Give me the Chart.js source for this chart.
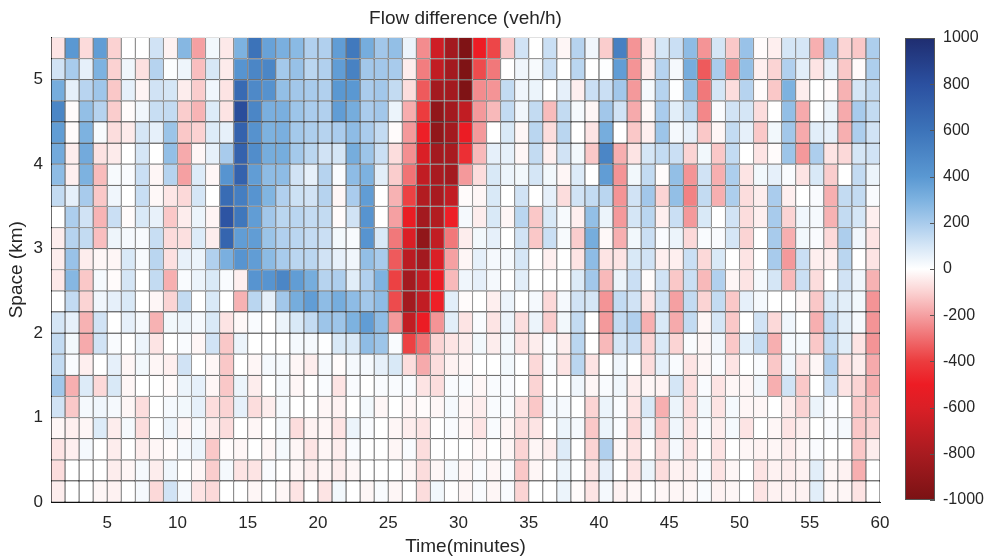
<!DOCTYPE html>
<html>
<head>
<meta charset="utf-8">
<script src="https://cdn.jsdelivr.net/npm/chart.js@4.4.1/dist/chart.umd.min.js"></script>
<style>
html,body{margin:0;padding:0;background:#ffffff;}
#wrap{position:relative;width:987px;height:558px;overflow:hidden;}
#main{position:absolute;left:0;top:0;}
#cbar{position:absolute;left:880px;top:0;}
</style>
</head>
<body>
<div id="wrap">
<canvas id="main" width="944" height="558"></canvas>
<canvas id="cbar" width="107" height="558"></canvas>
</div>
<script>
// ---- data ----
const timeEdges = [1,2,3,4,5,6,7,8,9,10,11,12,13,14,15,16,17,18,19,20,21,22,23,24,25,26,27,28,29,30,
  31,32,33,34,35,36,37,38,39,40,41,42,43,44,45,46,47,48,49,50,51,52,53,54,55,56,57,58,59,60];
const spaceEdges = [0,0.25,0.5,0.75,1,1.25,1.5,1.75,2,2.25,2.5,2.75,3,3.25,3.5,3.75,4,4.25,4.5,4.75,5,5.25,5.5];
const xTickValues = [5,10,15,20,25,30,35,40,45,50,55,60];
const yTickValues = [0,1,2,3,4,5];
const colorTickValues = [-1000,-800,-600,-400,-200,0,200,400,600,800,1000];

// flow difference (veh/h); first row = 5.25-5.5 km (top), last row = 0-0.25 km (bottom)
const flowRows = [
 [-60,400,-80,380,-100,0,0,110,-30,280,-200,30,-50,300,600,360,310,270,180, 180,380,570,320,215,250,45,-240,-650,-820,-980,-500,-380,-120,110,0,125,-20,170,35, -110,530,-225,-60,100,125,260,-225,100,-120,235,-10,-35,100,100,-170,200,-95,-120,190],
 [110,200,60,300,-100,35,-70,170,10,40,-140,95,-45,420,500,500,210,240,160, 180,380,520,215,215,200,-40,-270,-700,-820,-980,-370,-280,0,35,20,125,0,160,0, 5,380,-225,-40,170,25,320,-340,195,-225,250,-35,-95,180,70,-60,60,-120,-10,190],
 [320,60,165,220,-120,60,-25,110,100,-40,-110,35,-60,650,480,430,250,215,200, 180,400,400,195,215,140,-75,-340,-820,-820,-980,-240,-225,140,35,45,0,60,-35,125, 125,215,-215,25,170,5,250,-280,100,-75,170,-10,-120,300,-40,0,-10,-165,100,140],
 [500,-10,250,170,-110,-10,35,130,140,-110,-160,80,-60,820,500,310,310,225,195, 180,380,320,195,215,45,-175,-400,-900,-820,-700,-215,-150,140,35,140,-145,140,25,-20, 215,110,-180,-15,195,70,160,-250,15,110,100,-75,0,250,-180,0,45,-180,200,140],
 [380,-8,300,20,-75,-45,100,60,230,-120,-100,80,60,700,430,300,310,210,190, 170,195,260,195,140,-10,-215,-490,-900,-820,-510,-215,0,90,-20,160,-75,160,0,-60, 320,0,-120,-35,225,25,60,-120,-20,140,60,-120,30,215,-180,70,60,-170,190,110],
 [330,-40,330,-65,-45,0,100,0,250,-180,-20,60,200,700,460,320,320,210,160, 110,100,320,225,125,-75,-235,-600,-820,-800,-440,-150,60,60,-20,140,-35,110,30,-120, 500,-170,-60,100,140,125,-95,30,-120,140,0,-60,-10,225,-215,190,-60,-85,100,110],
 [260,-35,300,-145,20,15,125,-20,170,-200,80,-20,420,700,380,260,260,110,60, 170,15,260,300,70,-110,-290,-700,-800,-820,-215,-75,90,45,30,100,30,-20,80,0, 380,-225,30,140,-10,250,-225,110,-170,190,-60,30,60,15,-60,90,-110,0,140,45],
 [140,60,200,-120,35,0,130,-15,-55,-85,100,0,640,540,420,290,180,120,110, 170,-20,195,380,0,-165,-390,-760,-800,-700,-10,-20,90,0,110,0,60,-75,110,140, 160,-225,110,215,-95,250,-260,140,-170,190,-75,-40,195,-35,0,15,-170,140,140,15],
 [0,190,110,-160,125,-10,90,55,-120,-40,45,-25,780,580,380,215,160,160,140, 140,-10,110,420,0,-200,-520,-820,-760,-490,25,-40,90,-20,160,-120,90,20,-35,250, 45,-215,100,160,-35,125,-215,90,0,110,-75,-35,200,-95,35,25,-165,140,100,-35],
 [-40,170,140,-140,40,25,20,130,-80,-70,80,-40,680,380,380,230,180,160,140, 125,30,20,420,90,-280,-600,-900,-700,-280,-40,30,60,0,110,-120,125,20,-110,320, -15,-170,30,125,15,45,-85,15,15,100,-95,0,200,-170,30,15,-85,190,35,-60],
 [-40,235,-40,-20,-20,90,20,160,-70,55,45,180,310,420,380,265,200,160,160, 110,60,35,250,200,-340,-730,-820,-600,-200,-20,60,25,25,100,0,-35,0,-60,260, -60,-60,90,110,-35,-35,125,-85,90,0,-60,0,200,-215,125,-35,-35,160,0,-60],
 [-50,280,-120,25,-10,100,0,140,-170,15,45,90,15,-35,420,420,500,380,320, 170,190,70,180,300,-390,-820,-700,-510,-150,35,60,25,0,70,0,0,0,80,215, -150,45,125,-10,110,-120,125,-150,180,-20,-60,25,100,-150,125,-75,0,110,35,-165],
 [0,140,-95,35,60,90,0,-20,-95,140,0,90,0,-165,160,60,215,320,380, 260,320,260,215,260,-370,-820,-700,-490,70,-10,0,-35,45,0,25,-85,25,110,100, -225,140,110,-60,110,-200,140,-95,140,-120,60,25,0,0,-20,-120,90,70,30,-225],
 [100,60,-165,110,0,60,25,-165,30,45,25,90,-60,-15,15,0,45,90,140, 225,225,300,380,260,-215,-700,-510,-225,70,-60,15,-60,45,-75,45,-110,30,140,0, -215,140,180,-170,90,-180,140,-20,100,-120,0,110,-85,35,0,-170,140,70,25,-225],
 [140,30,-180,110,15,0,45,-60,0,15,-20,110,-120,45,0,0,0,25,25, 5,90,90,260,225,15,-390,-290,-95,-60,-40,30,-40,30,-60,-40,15,-40,160,0, -150,100,125,-95,90,-95,15,-20,35,-120,70,140,-170,25,25,-120,140,70,-60,-225],
 [140,15,-35,0,60,-20,30,-20,-35,110,0,-20,-120,0,-20,25,25,-20,-40, 25,-10,25,25,60,90,-75,-180,-75,-30,-20,0,0,30,0,-85,15,-60,160,-60, 0,35,0,-75,60,15,-60,-20,15,-60,0,15,-120,35,-60,-20,180,-60,-40,-180],
 [215,-170,80,-85,90,-20,0,0,-10,45,60,-20,-120,45,-40,0,25,-20,0, 15,-60,15,0,15,15,15,-60,-75,15,15,-20,15,15,0,-95,0,0,35,-20, 15,35,-40,-20,-30,100,-75,15,-60,-20,-20,35,-170,110,-120,0,125,-60,-95,-170],
 [110,-120,25,35,25,-20,-75,0,25,30,60,-75,-95,60,-75,-40,25,0,0, -20,-30,0,30,-20,0,-20,-10,-20,25,-20,-40,15,15,-60,-120,25,25,0,-95, 45,15,-60,90,-170,45,-75,30,-60,25,-20,-20,0,-40,-95,45,15,0,-120,-120],
 [-20,-35,-20,80,-40,25,-75,0,45,-20,25,-40,-75,0,-20,0,25,-75,-30, -20,-60,45,15,0,-20,-40,-60,0,15,-20,-60,15,-20,-75,-60,0,45,25,-120, 45,15,-85,35,-120,35,-60,15,-40,25,-60,0,-20,-60,-40,0,15,25,-120,-95],
 [-60,-35,25,0,-40,0,-40,-20,-10,25,45,-120,-10,-20,0,-20,25,-20,-60, -20,-40,15,0,0,-20,15,-75,0,0,0,-20,0,-20,-95,-20,-40,80,0,-95, 180,-20,-60,0,-75,25,-60,0,-60,0,-20,-30,-20,-40,-20,15,0,0,-120,-40],
 [-75,0,0,0,-40,-20,25,-40,35,0,-20,-110,25,-60,-60,15,0,-20,-40, -20,-40,-20,0,0,0,-20,-75,-20,25,-20,15,-20,15,-120,-20,0,45,0,-60, 60,0,-60,45,-75,-30,-40,15,-60,-20,0,-60,-30,-40,-30,70,-20,-30,-170,0],
 [-40,0,0,-20,-30,0,25,-85,110,25,-60,-85,0,0,-20,0,-20,-60,0, -60,30,0,-20,15,-20,0,-75,30,0,-20,15,-20,15,-95,0,0,45,-10,-60, 25,-30,-20,0,-20,-20,-20,15,-30,-20,0,-60,-30,-30,-30,70,-20,-20,-60,0]
];

// ---- colour map (value -> rgb) ----
const cmapValues = [-1000,-800,-600,-500,-400,-300,-200,-100,0,100,200,300,400,600,800,1000];
const cmapColors = [
  [122,18,20],[168,27,32],[218,31,38],[237,28,36],[236,60,62],[240,110,112],[245,160,162],[251,210,210],
  [255,255,255],[213,230,246],[168,203,236],[125,178,224],[90,152,210],[60,115,185],[43,80,160],[31,45,112]
];
function colorFor(v) {
  if (v <= cmapValues[0]) return 'rgb(' + cmapColors[0].join(',') + ')';
  for (let i = 1; i < cmapValues.length; i++) {
    if (v <= cmapValues[i]) {
      const t = (v - cmapValues[i-1]) / (cmapValues[i] - cmapValues[i-1]);
      const a = cmapColors[i-1], b = cmapColors[i];
      const c = a.map((x, k) => Math.round(x + (b[k] - x) * t));
      return 'rgb(' + c.join(',') + ')';
    }
  }
  return 'rgb(' + cmapColors[cmapColors.length-1].join(',') + ')';
}

const FONT = "'Liberation Sans', Arial, Helvetica, sans-serif";
const TXT = '#262626';
const nRows = flowRows.length;

const datasets = flowRows.map((row, i) => {
  const r = nRows - 1 - i; // bottom-based row index
  return {
    label: 'row' + r,
    data: row.map((v, j) => ({
      x: (timeEdges[j] + timeEdges[j + 1]) / 2,
      y: [spaceEdges[r], spaceEdges[r + 1]],
      v: v
    })),
    backgroundColor: row.map(colorFor),
    borderColor: '#111111',
    borderWidth: 0.62,
    borderSkipped: false,
    inflateAmount: 0,
    barPercentage: 1,
    categoryPercentage: 1,
    grouped: false
  };
});

new Chart(document.getElementById('main'), {
  type: 'bar',
  data: { datasets: datasets },
  options: {
    responsive: false,
    animation: false,
    events: [],
    layout: { padding: { left: 0, right: 64, top: 0, bottom: 0 } },
    plugins: {
      legend: { display: false },
      tooltip: { enabled: false },
      title: {
        display: true,
        text: 'Flow difference (veh/h)',
        fullSize: false,
        color: TXT,
        font: { family: FONT, size: 19, weight: 'normal', lineHeight: 1.2 },
        padding: { top: 7, bottom: 7.7 }
      }
    },
    scales: {
      x: {
        type: 'linear',
        min: timeEdges[0],
        max: timeEdges[timeEdges.length - 1],
        offset: false,
        grid: { display: false, drawTicks: false },
        border: { display: true, color: '#111111', width: 1 },
        afterBuildTicks: s => { s.ticks = xTickValues.map(v => ({ value: v })); },
        ticks: { autoSkip: false, maxRotation: 0, padding: 11, color: TXT, font: { family: FONT, size: 17 } },
        title: { display: true, text: 'Time(minutes)', color: TXT, font: { family: FONT, size: 19, lineHeight: 1.2 }, padding: { top: 0, bottom: 0 } },
        afterFit: s => { s.height = 56; }
      },
      y: {
        type: 'linear',
        min: spaceEdges[0],
        max: spaceEdges[spaceEdges.length - 1],
        grid: { display: false, drawTicks: false },
        border: { display: true, color: '#111111', width: 1 },
        afterBuildTicks: s => { s.ticks = yTickValues.map(v => ({ value: v })); },
        ticks: { autoSkip: false, padding: 8, color: TXT, font: { family: FONT, size: 17 } },
        title: { display: true, text: 'Space (km)', color: TXT, font: { family: FONT, size: 19, lineHeight: 1.2 }, padding: { top: 5, bottom: 0 } },
        afterFit: s => { s.width = 51; }
      }
    }
  }
});

// ---- colour bar ----
const cbarTicksPlugin = {
  id: 'cbarTicks',
  afterDatasetsDraw(chart) {
    const { ctx, chartArea } = chart;
    const ys = chart.scales.y;
    ctx.save();
    ctx.strokeStyle = '#555555';
    ctx.lineWidth = 1;
    colorTickValues.forEach(v => {
      const py = Math.round(ys.getPixelForValue(v)) + 0.5;
      ctx.beginPath();
      ctx.moveTo(chartArea.right - 5, py);
      ctx.lineTo(chartArea.right, py);
      ctx.stroke();
    });
    ctx.restore();
  }
};

new Chart(document.getElementById('cbar'), {
  type: 'bar',
  data: {
    labels: ['flow'],
    datasets: [{
      data: [[colorTickValues[0], colorTickValues[colorTickValues.length - 1]]],
      backgroundColor: (c) => {
        const chart = c.chart;
        if (!chart.chartArea) return '#ffffff';
        const ys = chart.scales.y;
        const g = chart.ctx.createLinearGradient(0, ys.getPixelForValue(cmapValues[0]), 0, ys.getPixelForValue(cmapValues[cmapValues.length - 1]));
        const lo = cmapValues[0], hi = cmapValues[cmapValues.length - 1];
        cmapValues.forEach((v, i) => g.addColorStop((v - lo) / (hi - lo), 'rgb(' + cmapColors[i].join(',') + ')'));
        return g;
      },
      borderColor: '#555555',
      borderWidth: 1,
      borderSkipped: false,
      inflateAmount: 0,
      barPercentage: 1,
      categoryPercentage: 1
    }]
  },
  options: {
    responsive: false,
    animation: false,
    events: [],
    layout: { padding: { left: 25, right: 0, top: 38, bottom: 58 } },
    plugins: { legend: { display: false }, tooltip: { enabled: false } },
    scales: {
      x: { display: false },
      y: {
        position: 'right',
        min: colorTickValues[0],
        max: colorTickValues[colorTickValues.length - 1],
        grid: { display: false, drawTicks: false },
        border: { display: false },
        afterBuildTicks: s => { s.ticks = colorTickValues.map(v => ({ value: v })); },
        ticks: { autoSkip: false, padding: 8, color: TXT, font: { family: FONT, size: 16 }, callback: v => String(v) },
        afterFit: s => { s.width = 52; }
      }
    }
  },
  plugins: [cbarTicksPlugin]
});
</script>
</body>
</html>
